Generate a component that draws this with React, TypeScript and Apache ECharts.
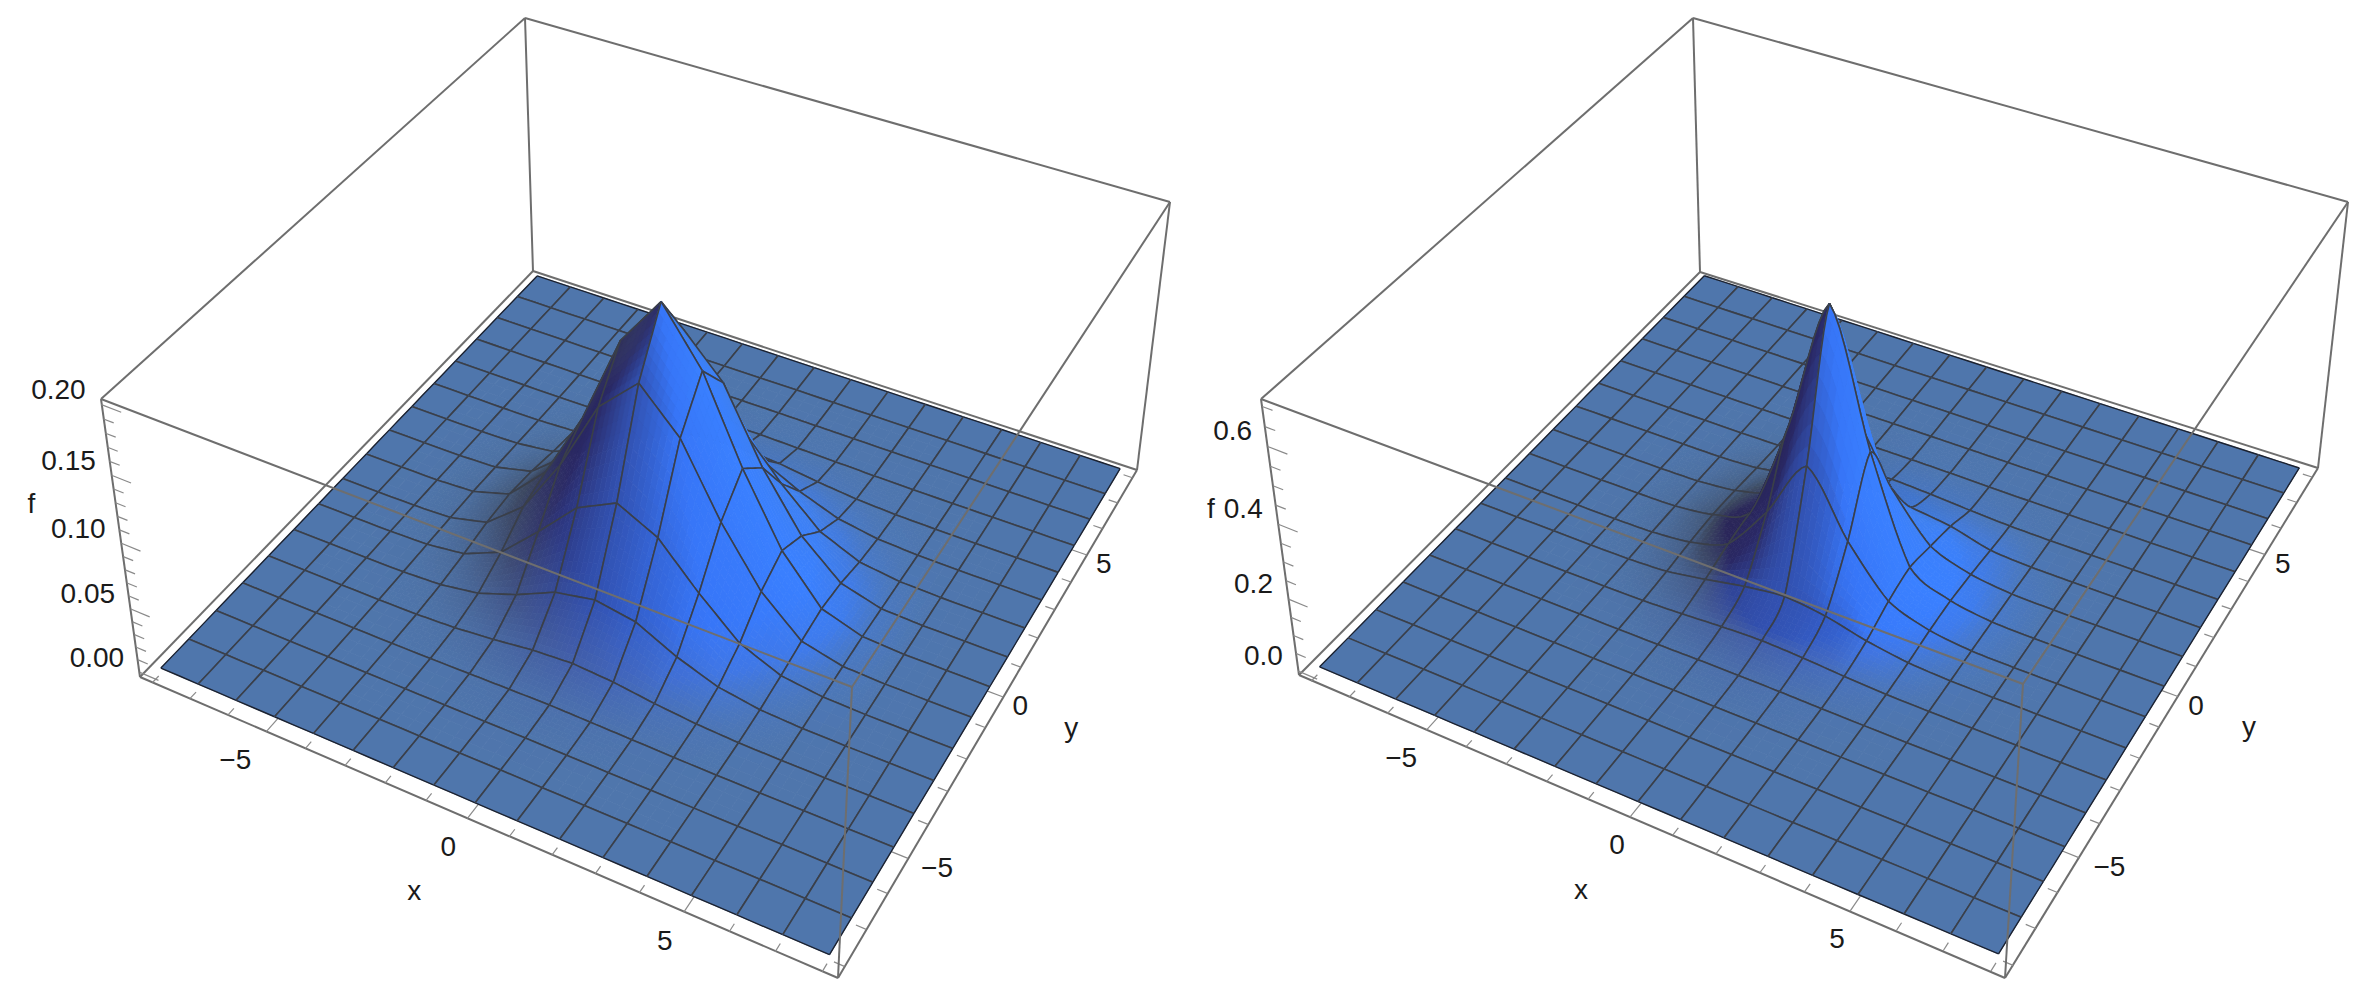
import React, { useEffect, useRef } from "react";
import * as echarts from "echarts";

// ---------- data ----------
const xCategories = [-8, -7, -6, -5, -4, -3, -2, -1, 0, 1, 2, 3, 4, 5, 6, 7, 8];
const yCategories = [-8, -7, -6, -5, -4, -3, -2, -1, 0, 1, 2, 3, 4, 5, 6, 7, 8];
const labelledXY = [-5, 0, 5];
const leftZTicks = [0, 0.01, 0.02, 0.03, 0.04, 0.05, 0.06, 0.07, 0.08, 0.09, 0.1, 0.11, 0.12, 0.13, 0.14, 0.15, 0.16, 0.17, 0.18, 0.19, 0.2];
const leftZLabels = ["0.00", "0.05", "0.10", "0.15", "0.20"];
const rightZTicks = [0, 0.05, 0.1, 0.15, 0.2, 0.25, 0.3, 0.35, 0.4, 0.45, 0.5, 0.55, 0.6, 0.65, 0.7];
const rightZLabels = ["0.0", "0.2", "0.4", "0.6"];

// f(x, y) in thousandths; rows y = -8..8, columns x = -8..8
const leftHeights = [
  [0, 0, 0, 0, 0, 0, 0, 0, 0, 0, 0, 0, 0, 0, 0, 0, 0],
  [0, 0, 0, 0, 0, 0, 0, 0, 0.1, 0, 0, 0, 0, 0, 0, 0, 0],
  [0, 0, 0, 0, 0, 0, 0.1, 0.2, 0.3, 0.2, 0.1, 0, 0, 0, 0, 0, 0],
  [0, 0, 0, 0, 0.1, 0.4, 1, 1.5, 2, 1.5, 1, 0.4, 0.1, 0, 0, 0, 0],
  [0, 0, 0, 0.1, 0.5, 2, 5, 9, 11, 9, 5, 2, 0.5, 0.1, 0, 0, 0],
  [0, 0, 0, 0.4, 2, 7, 18, 32, 38, 33, 18, 7, 2, 0.4, 0, 0, 0],
  [0, 0, 0.1, 1, 5, 18, 46, 76, 91, 76, 45, 18, 5, 1, 0.1, 0, 0],
  [0, 0, 0.2, 1.5, 9, 33, 77, 132, 160, 130, 78, 36, 9, 1.5, 0.2, 0, 0],
  [0, 0.1, 0.3, 2, 11, 40, 93, 162, 200, 160, 98, 46, 12, 2, 0.3, 0.1, 0],
  [0, 0, 0.2, 1.5, 9, 33, 77, 132, 162, 132, 78, 36, 10, 1.5, 0.2, 0, 0],
  [0, 0, 0.1, 1, 5, 18, 45, 77, 93, 77, 45, 18, 5, 1, 0.1, 0, 0],
  [0, 0, 0, 0.4, 2, 7, 18, 33, 40, 33, 18, 7, 2, 0.4, 0, 0, 0],
  [0, 0, 0, 0.1, 0.5, 2, 5, 9, 11, 9, 5, 2, 0.5, 0.1, 0, 0, 0],
  [0, 0, 0, 0, 0.1, 0.4, 1, 1.5, 2, 1.5, 1, 0.4, 0.1, 0, 0, 0, 0],
  [0, 0, 0, 0, 0, 0, 0.1, 0.2, 0.3, 0.2, 0.1, 0, 0, 0, 0, 0, 0],
  [0, 0, 0, 0, 0, 0, 0, 0, 0.1, 0, 0, 0, 0, 0, 0, 0, 0],
  [0, 0, 0, 0, 0, 0, 0, 0, 0, 0, 0, 0, 0, 0, 0, 0, 0],
];
const rightHeights = [
  [0, 0, 0, 0, 0, 0, 0, 0, 0, 0, 0, 0, 0, 0, 0, 0, 0],
  [0, 0, 0, 0, 0, 0, 0, 0, 0, 0, 0, 0, 0, 0, 0, 0, 0],
  [0, 0, 0, 0, 0, 0, 0, 0, 0, 0, 0, 0, 0, 0, 0, 0, 0],
  [0, 0, 0, 0, 0, 0, 0, 0.2, 0.3, 0.2, 0, 0, 0, 0, 0, 0, 0],
  [0, 0, 0, 0, 0, 0.3, 1, 2.5, 3, 2.5, 1, 0.3, 0, 0, 0, 0, 0],
  [0, 0, 0, 0, 0.3, 2, 7, 14, 18, 14, 7, 2, 0.3, 0, 0, 0, 0],
  [0, 0, 0, 0, 1, 7, 26, 48, 62, 50, 24, 7, 1, 0, 0, 0, 0],
  [0, 0, 0, 0.2, 2.5, 14, 50, 180, 345, 180, 55, 16, 2.5, 0.2, 0, 0, 0],
  [0, 0, 0, 0.3, 3, 18, 65, 345, 700, 350, 72, 20, 3, 0.3, 0, 0, 0],
  [0, 0, 0, 0.2, 2.5, 14, 50, 180, 345, 180, 55, 16, 2.5, 0.2, 0, 0, 0],
  [0, 0, 0, 0, 1, 7, 28, 50, 65, 50, 36, 8, 1, 0, 0, 0, 0],
  [0, 0, 0, 0, 0.3, 2, 7, 14, 18, 14, 7, 2, 0.3, 0, 0, 0, 0],
  [0, 0, 0, 0, 0, 0.3, 1, 2.5, 3, 2.5, 1, 0.3, 0, 0, 0, 0, 0],
  [0, 0, 0, 0, 0, 0, 0, 0.2, 0.3, 0.2, 0, 0, 0, 0, 0, 0, 0],
  [0, 0, 0, 0, 0, 0, 0, 0, 0, 0, 0, 0, 0, 0, 0, 0, 0],
  [0, 0, 0, 0, 0, 0, 0, 0, 0, 0, 0, 0, 0, 0, 0, 0, 0],
  [0, 0, 0, 0, 0, 0, 0, 0, 0, 0, 0, 0, 0, 0, 0, 0, 0],
];

// ---------- layout and style ----------
const WIDTH = 2368;
const HEIGHT = 1002;
const FONT = '28px "Liberation Sans", Arial, sans-serif';
const BOX_COLOR = "#6e6e6e";
const TICK_COLOR = "#8a8a8a";
const MESH_COLOR = "#3a3f49";
const XY_PAD = 8.32;

type Vec = number[];
const UNIT_BOX = [
  [0, 0, 0], [1, 0, 0], [1, 1, 0], [0, 1, 0],
  [0, 0, 1], [1, 0, 1], [1, 1, 1], [0, 1, 1],
];
const BACK_EDGES = [[0, 1], [1, 2], [2, 3], [3, 0], [0, 4], [2, 6], [3, 7], [4, 7], [7, 6]];
const FRONT_EDGES = [[4, 5], [5, 6], [1, 5]];

const panels = [
  {
    corners: [[140, 677], [838, 978], [1137, 470], [533, 271], [101, 399], [852, 687], [1170, 202], [525, 18]],
    heights: leftHeights, zMin: -0.004, zMax: 0.204, slope: 36, smooth: 0,
    zTicks: leftZTicks, zLabels: leftZLabels, zMajorEvery: 5, zLabelStep: 0.05,
    zOffset: [-43, -15], fAt: 0.1, fOffset: [-90, -40],
    xOff: [-19, 28], yOff: [17, 9], xNameOff: [-53, 72], yNameOff: [68, 31],
  },
  {
    corners: [[1299, 675], [2005, 978], [2318, 468], [1700, 272], [1261, 399], [2023, 684], [2348, 202], [1693, 18]],
    heights: rightHeights, zMin: -0.014, zMax: 0.72, slope: 24, smooth: 0.65,
    zTicks: rightZTicks, zLabels: rightZLabels, zMajorEvery: 4, zLabelStep: 0.2,
    zOffset: [-35, -16], fAt: 0.35, fOffset: [-70, -35],
    xOff: [-13, 27], yOff: [18, 9], xNameOff: [-49, 72], yNameOff: [71, 30],
  },
];

// ---------- perspective calibration from the eight box corners ----------
function solveLinear(M: number[][], b: number[]) {
  const n = b.length;
  const A = M.map((r, i) => [...r, b[i]]);
  for (let c = 0; c < n; c++) {
    let p = c;
    for (let r = c + 1; r < n; r++) if (Math.abs(A[r][c]) > Math.abs(A[p][c])) p = r;
    [A[c], A[p]] = [A[p], A[c]];
    for (let r = 0; r < n; r++) {
      if (r === c) continue;
      const f = A[r][c] / A[c][c];
      for (let k = c; k <= n; k++) A[r][k] -= f * A[c][k];
    }
  }
  return A.map((r, i) => r[n] / r[i]);
}

function calibrate(corners: number[][]) {
  const rows: number[][] = [];
  const rhs: number[] = [];
  corners.forEach(([X0, Y0], i) => {
    const X = X0 / 1000;
    const Y = Y0 / 1000;
    const [u, v, w] = UNIT_BOX[i];
    rows.push([u, v, w, 1, 0, 0, 0, 0, -X * u, -X * v, -X * w]);
    rhs.push(X);
    rows.push([0, 0, 0, 0, u, v, w, 1, -Y * u, -Y * v, -Y * w]);
    rhs.push(Y);
  });
  const N = Array.from({ length: 11 }, (_, a) =>
    Array.from({ length: 11 }, (_, b) => rows.reduce((s, r) => s + r[a] * r[b], 0))
  );
  const y = Array.from({ length: 11 }, (_, a) => rows.reduce((s, r, k) => s + r[a] * rhs[k], 0));
  return solveLinear(N, y);
}

function makeProjector(panel: any) {
  const p = calibrate(panel.corners);
  const unit = (u: number, v: number, w: number) => {
    const d = p[8] * u + p[9] * v + p[10] * w + 1;
    return [
      (1000 * (p[0] * u + p[1] * v + p[2] * w + p[3])) / d,
      (1000 * (p[4] * u + p[5] * v + p[6] * w + p[7])) / d,
    ];
  };
  return (x: number, y: number, z: number) =>
    unit(
      (x + XY_PAD) / (2 * XY_PAD),
      (y + XY_PAD) / (2 * XY_PAD),
      (z - panel.zMin) / (panel.zMax - panel.zMin)
    );
}

// ---------- shading ----------
const FLAT = [79, 118, 172];
const SHADE_STOPS = [
  { a: -180, mid: [60, 72, 94], end: [42, 38, 88] },
  { a: -135, mid: [62, 76, 118], end: [42, 40, 100] },
  { a: -90, mid: [66, 94, 170], end: [50, 82, 178] },
  { a: -45, mid: [64, 118, 228], end: [55, 118, 248] },
  { a: 0, mid: [62, 124, 238], end: [58, 128, 255] },
  { a: 45, mid: [68, 122, 215], end: [62, 128, 240] },
  { a: 90, mid: [72, 116, 184], end: [65, 115, 198] },
  { a: 135, mid: [64, 84, 110], end: [60, 78, 118] },
  { a: 180, mid: [60, 72, 94], end: [42, 38, 88] },
];

const mix = (a: Vec, b: Vec, t: number) => a.map((v, i) => v + (b[i] - v) * t);

function shade(gx: number, gy: number, slope: number) {
  const s = Math.hypot(gx, gy) * slope;
  const ang = (Math.atan2(-gy, -gx) * 180) / Math.PI;
  const m = Math.min(1, s * 0.7 * (1 + 0.35 * Math.cos((ang * Math.PI) / 180)));
  if (m < 0.004) return `rgb(${FLAT.join(",")})`;
  let k = 0;
  while (k < SHADE_STOPS.length - 2 && ang > SHADE_STOPS[k + 1].a) k++;
  const A = SHADE_STOPS[k];
  const B = SHADE_STOPS[k + 1];
  const t = (ang - A.a) / (B.a - A.a);
  const mid = mix(A.mid, B.mid, t);
  const end = mix(A.end, B.end, t);
  const c = m < 0.5 ? mix(FLAT, mid, m / 0.5) : mix(mid, end, (m - 0.5) / 0.5);
  return `rgb(${c.map((v) => Math.round(v)).join(",")})`;
}

// ---------- surface helpers ----------
function makeSurface(panel: any) {
  const H: number[][] = panel.heights.map((r: number[]) => r.map((v) => v / 1000));
  const N = H.length;
  const at = (i: number, j: number) => H[Math.max(0, Math.min(N - 1, j))][Math.max(0, Math.min(N - 1, i))];
  const cr = (a: number, b: number, c: number, d: number, t: number) =>
    0.5 * (2 * b + (c - a) * t + (2 * a - 5 * b + 4 * c - d) * t * t + (3 * b - a - 3 * c + d) * t * t * t);
  const height = (i: number, j: number, s: number, t: number) => {
    const flat = (at(i, j) * (1 - s) + at(i + 1, j) * s) * (1 - t) + (at(i, j + 1) * (1 - s) + at(i + 1, j + 1) * s) * t;
    if (!panel.smooth) return flat;
    const col = [-1, 0, 1, 2].map((dj) =>
      cr(at(i - 1, j + dj), at(i, j + dj), at(i + 1, j + dj), at(i + 2, j + dj), s)
    );
    const round = Math.max(0, cr(col[0], col[1], col[2], col[3], t));
    return flat + (round - flat) * panel.smooth;
  };
  let peak = 0;
  H.forEach((r) => r.forEach((v) => (peak = Math.max(peak, v))));
  const vertexGrad = (vi: number, vj: number, cellI: number, cellJ: number) => {
    if (at(vi, vj) === peak) {
      return [
        (at(cellI + 1, vj) - at(cellI, vj)) * 0.9,
        (at(vi, cellJ + 1) - at(vi, cellJ)) * 0.9,
      ];
    }
    return [(at(vi + 1, vj) - at(vi - 1, vj)) / 2, (at(vi, vj + 1) - at(vi, vj - 1)) / 2];
  };
  return { N, height, vertexGrad };
}

function buildPanelSeries(panel: any, index: number) {
  const project = makeProjector(panel);
  const surface = makeSurface(panel);
  const cells: number[][] = [];
  for (let j = surface.N - 2; j >= 0; j--) for (let i = 0; i < surface.N - 1; i++) cells.push([i, j]);

  const apiRef: { api: any } = { api: null };
  const world = (i: number, j: number, s: number, t: number) => {
    const x = xCategories[i] + s;
    const y = yCategories[j] + t;
    return apiRef.api.coord(project(x, y, surface.height(i, j, s, t)));
  };

  const renderCell = (_: any, api: any) => {
    apiRef.api = api;
    const i = api.value(0);
    const j = api.value(1);
    const g00 = surface.vertexGrad(i, j, i, j);
    const g10 = surface.vertexGrad(i + 1, j, i, j);
    const g01 = surface.vertexGrad(i, j + 1, i, j);
    const g11 = surface.vertexGrad(i + 1, j + 1, i, j);
    const gm = Math.max(...[g00, g10, g01, g11].map((g) => Math.hypot(g[0], g[1]) * panel.slope));
    const n = gm < 0.006 ? 1 : gm < 0.12 ? 3 : 8;
    const children: any[] = [];
    for (let b = n - 1; b >= 0; b--) {
      for (let a = 0; a < n; a++) {
        const s0 = a / n, s1 = (a + 1) / n, t0 = b / n, t1 = (b + 1) / n;
        const sc = (a + 0.5) / n, tc = (b + 0.5) / n;
        const gx = (g00[0] * (1 - sc) + g10[0] * sc) * (1 - tc) + (g01[0] * (1 - sc) + g11[0] * sc) * tc;
        const gy = (g00[1] * (1 - sc) + g10[1] * sc) * (1 - tc) + (g01[1] * (1 - sc) + g11[1] * sc) * tc;
        const fill = shade(gx, gy, panel.slope);
        children.push({
          type: "polygon",
          shape: { points: [world(i, j, s0, t0), world(i, j, s1, t0), world(i, j, s1, t1), world(i, j, s0, t1)] },
          style: { fill, stroke: fill, lineWidth: 0.8 },
        });
      }
    }
    const line = (pts: number[][], dark: boolean) =>
      children.push({
        type: "polyline",
        shape: { points: pts },
        style: { fill: "none", stroke: dark ? "#1c2230" : MESH_COLOR, lineWidth: dark ? 1.4 : 1.6 },
      });
    const m = Math.max(n, 2);
    const seq = Array.from({ length: m + 1 }, (_, k) => k / m);
    line(seq.map((q) => world(i, j, q, 0)), j === 0);
    line(seq.map((q) => world(i, j, q, 1)), j === surface.N - 2);
    line(seq.map((q) => world(i, j, 0, q)), i === 0);
    line(seq.map((q) => world(i, j, 1, q)), i === surface.N - 2);
    return { type: "group", children };
  };

  const corners = panel.corners;
  const edgeItem = (_: any, api: any) => {
    const a = corners[api.value(0)];
    const b = corners[api.value(1)];
    return {
      type: "line",
      shape: { x1: api.coord(a)[0], y1: api.coord(a)[1], x2: api.coord(b)[0], y2: api.coord(b)[1] },
      style: { stroke: BOX_COLOR, lineWidth: 2 },
    };
  };

  const ticks: number[][] = [];
  xCategories.forEach((v) => ticks.push([0, v, labelledXY.includes(v) ? 1 : 0]));
  yCategories.forEach((v) => ticks.push([1, v, labelledXY.includes(v) ? 1 : 0]));
  panel.zTicks.forEach((v: number, k: number) => ticks.push([2, v, k % panel.zMajorEvery === 0 ? 1 : 0]));
  const floor = panel.zMin;
  const tickItem = (_: any, api: any) => {
    const axis = api.value(0);
    const v = api.value(1);
    const major = api.value(2) === 1;
    let a: number[], b: number[];
    if (axis === 0) {
      a = project(v, -XY_PAD, floor);
      b = project(v, -XY_PAD + (major ? 0.42 : 0.22), floor);
    } else if (axis === 1) {
      a = project(XY_PAD, v, floor);
      b = project(XY_PAD - (major ? 0.42 : 0.22), v, floor);
    } else {
      a = project(-XY_PAD, -XY_PAD, v);
      b = project(-XY_PAD + (major ? 0.5 : 0.26), -XY_PAD, v);
    }
    const pa = api.coord(a);
    const pb = api.coord(b);
    return {
      type: "line",
      shape: { x1: pa[0], y1: pa[1], x2: pb[0], y2: pb[1] },
      style: { stroke: TICK_COLOR, lineWidth: 1.2 },
    };
  };

  const labels: any[] = [];
  labelledXY.forEach((v) => {
    labels.push([v < 0 ? "\u2212" + Math.abs(v) : String(v), 0, v]);
    labels.push([v < 0 ? "\u2212" + Math.abs(v) : String(v), 1, v]);
  });
  panel.zLabels.forEach((t: string, k: number) => labels.push([t, 2, k * panel.zLabelStep]));
  labels.push(["x", 3, 0], ["y", 4, 0], ["f", 5, panel.fAt]);
  const labelItem = (_: any, api: any) => {
    const text = labels[api.value(3)][0];
    const axis = api.value(1);
    const v = api.value(2);
    const minus = v < 0 ? 12 : 0;
    let base: number[];
    let off: number[];
    if (axis === 0) {
      base = project(v, -XY_PAD, floor);
      off = [panel.xOff[0] - minus, panel.xOff[1]];
    } else if (axis === 1) {
      base = project(XY_PAD, v, floor);
      off = [panel.yOff[0] + minus, panel.yOff[1]];
    } else if (axis === 2) {
      base = project(-XY_PAD, -XY_PAD, v);
      off = panel.zOffset;
    } else if (axis === 3) {
      base = project(0, -XY_PAD, floor);
      off = panel.xNameOff;
    } else if (axis === 4) {
      base = project(XY_PAD, 0, floor);
      off = panel.yNameOff;
    } else {
      base = project(-XY_PAD, -XY_PAD, v);
      off = panel.fOffset;
    }
    const p = api.coord(base);
    return {
      type: "text",
      x: p[0] + off[0],
      y: p[1] + off[1],
      style: { text, font: FONT, fill: "#1a1a1a", align: "center", verticalAlign: "middle" },
    };
  };

  const common = { type: "custom", coordinateSystem: "cartesian2d", silent: true, clip: false, animation: false };
  return [
    { ...common, id: `back${index}`, z: 2, data: BACK_EDGES, renderItem: edgeItem },
    { ...common, id: `ticks${index}`, z: 3, data: ticks, renderItem: tickItem },
    { ...common, id: `surface${index}`, z: 4, data: cells, renderItem: renderCell },
    { ...common, id: `front${index}`, z: 5, data: FRONT_EDGES, renderItem: edgeItem },
    {
      ...common,
      id: `labels${index}`,
      z: 6,
      data: labels.map((l, k) => [0, l[1], l[2], k]),
      dimensions: ["a", "b", "c", "d"],
      renderItem: labelItem,
    },
  ];
}

export default function App() {
  const ref = useRef<HTMLDivElement>(null);
  useEffect(() => {
    document.body.style.margin = "0";
    const chart = echarts.init(ref.current!, undefined, { renderer: "svg" });
    chart.setOption({
      animation: false,
      backgroundColor: "#ffffff",
      tooltip: { show: false },
      grid: { left: 0, right: 0, top: 0, bottom: 0 },
      xAxis: { type: "value", min: 0, max: WIDTH, show: false },
      yAxis: { type: "value", min: 0, max: HEIGHT, inverse: true, show: false },
      series: panels.flatMap((p, i) => buildPanelSeries(p, i)),
    });
    return () => chart.dispose();
  }, []);
  return <div ref={ref} style={{ position: "fixed", left: 0, top: 0, width: WIDTH, height: HEIGHT }} />;
}
